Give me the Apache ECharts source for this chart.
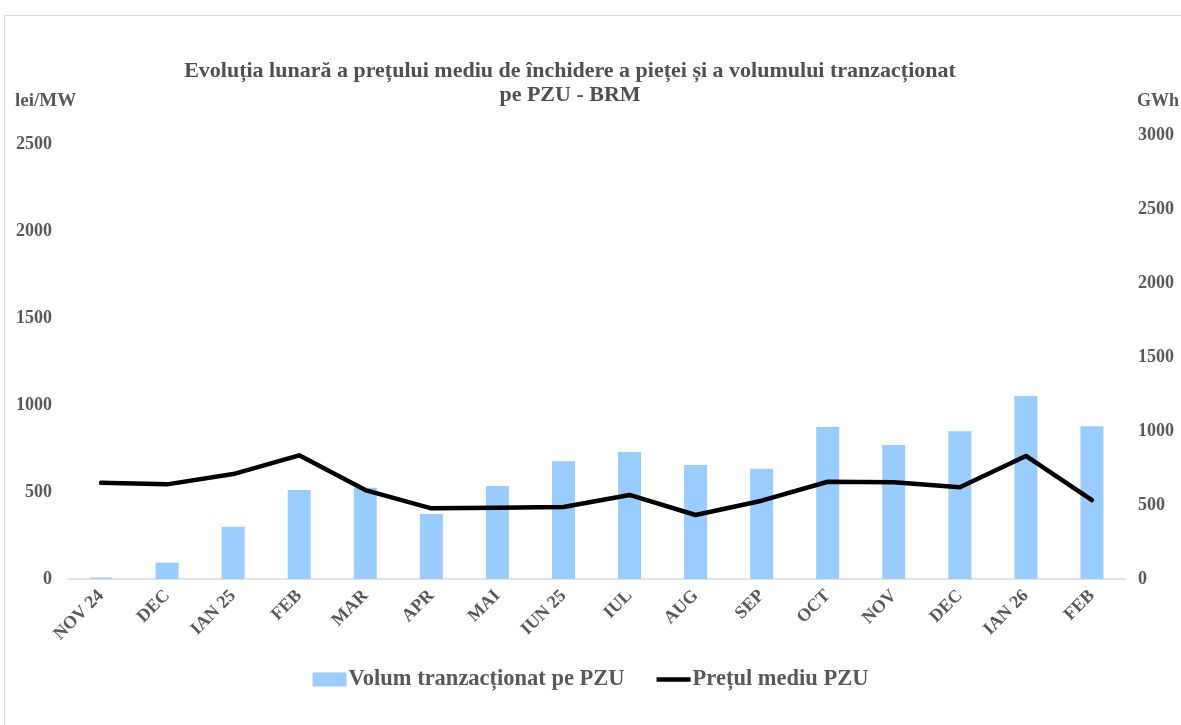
<!DOCTYPE html>
<html>
<head>
<meta charset="UTF-8">
<title>PZU - BRM</title>
<script src="https://cdn.jsdelivr.net/npm/echarts@6/dist/echarts.min.js"></script>
<style>
  html, body { margin: 0; padding: 0; background: #fff; }
  #main { width: 1181px; height: 725px; }
</style>
</head>
<body>
<div id="main"></div>
<script>
  // date
  var luni = ['NOV 24', 'DEC', 'IAN 25', 'FEB', 'MAR', 'APR', 'MAI', 'IUN 25',
              'IUL', 'AUG', 'SEP', 'OCT', 'NOV', 'DEC', 'IAN 26', 'FEB'];
  var volum = [10, 110, 353, 601, 617, 439, 628, 795,
               858, 770, 745, 1027, 905, 998, 1236, 1032];   // GWh
  var pret = [553, 544, 603, 711, 511, 406, 410, 414,
              483, 368, 450, 559, 556, 527, 707, 454];        // lei/MWh
  var ticksStanga = [0, 500, 1000, 1500, 2000, 2500];
  var ticksDreapta = [0, 500, 1000, 1500, 2000, 2500, 3000];

  var serif = '"Liberation Serif", "Times New Roman", serif';
  var gri = '#595959';

  var myChart = echarts.init(document.getElementById('main'));

  function fara(v) { return String(v); }

  var option = {
    animation: false,
    backgroundColor: '#fff',
    textStyle: { fontFamily: serif },
    title: {
      text: 'Evoluția lunară a prețului mediu de închidere a pieței și a volumului tranzacționat\npe PZU - BRM',
      left: 565,
      top: 54,
      textAlign: 'center',
      textStyle: {
        fontFamily: serif,
        fontSize: 22,
        fontWeight: 'bold',
        color: '#505050',
        lineHeight: 24
      }
    },
    graphic: [
      {
        type: 'rect',
        shape: { x: 4.5, y: 15.5, width: 1200, height: 740 },
        style: { fill: 'none', stroke: '#d9d9d9', lineWidth: 1 },
        silent: true
      },
      {
        type: 'text', left: 15, top: 92,
        style: { text: 'lei/MW', font: 'bold 19px ' + serif, fill: gri }
      },
      {
        type: 'text', left: 1137, top: 92,
        style: { text: 'GWh', font: 'bold 18px ' + serif, fill: gri }
      }
    ],
    legend: {
      bottom: 29,
      left: 'center',
      itemGap: 32,
      itemWidth: 34,
      itemHeight: 14,
      textStyle: { fontFamily: serif, fontSize: 22.5, fontWeight: 'bold', color: gri, padding: [0, 0, 0, -3] },
      data: [
        { name: 'Volum tranzacționat pe PZU', icon: 'rect' },
        { name: 'Prețul mediu PZU', icon: 'path://M0,0 L34,0 L34,4.5 L0,4.5 Z' }
      ]
    },
    grid: { left: 68, right: 56, top: 135, bottom: 146 },
    xAxis: {
      type: 'category',
      data: luni,
      axisLine: { lineStyle: { color: '#d9d9d9', width: 1.5 } },
      axisTick: { show: false },
      axisLabel: {
        rotate: 45,
        margin: 14,
        interval: 0,
        fontFamily: serif,
        fontSize: 18,
        fontWeight: 'bold',
        color: gri
      }
    },
    yAxis: [
      {
        type: 'value',
        min: ticksStanga[0],
        max: 2552,
        interval: 500,
        splitLine: { show: false },
        axisLine: { show: false },
        axisTick: { show: false },
        axisLabel: {
          showMaxLabel: false,
          margin: 16,
          formatter: fara,
          fontFamily: serif,
          fontSize: 18,
          fontWeight: 'bold',
          color: gri
        }
      },
      {
        type: 'value',
        min: ticksDreapta[0],
        max: ticksDreapta[ticksDreapta.length - 1],
        interval: 500,
        splitLine: { show: false },
        axisLine: { show: false },
        axisTick: { show: false },
        axisLabel: {
          margin: 13,
          formatter: fara,
          fontFamily: serif,
          fontSize: 18,
          fontWeight: 'bold',
          color: gri
        }
      }
    ],
    series: [
      {
        name: 'Volum tranzacționat pe PZU',
        type: 'bar',
        yAxisIndex: 1,
        barWidth: 23,
        itemStyle: { color: '#99ccff' },
        data: volum
      },
      {
        name: 'Prețul mediu PZU',
        type: 'line',
        yAxisIndex: 0,
        symbol: 'none',
        lineStyle: { color: '#000', width: 4.5, cap: 'round', join: 'round' },
        itemStyle: { color: '#000' },
        data: pret
      }
    ]
  };

  myChart.setOption(option);
</script>
</body>
</html>
